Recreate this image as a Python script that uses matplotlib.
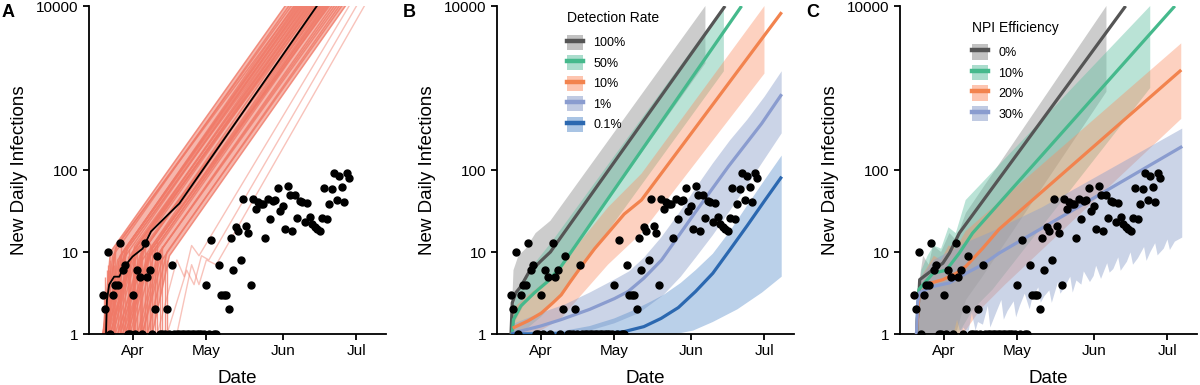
import numpy as np
import matplotlib
matplotlib.use("Agg")
import matplotlib.pyplot as plt
import matplotlib.dates as mdates
from matplotlib.patches import Patch
from matplotlib.lines import Line2D
from matplotlib.ticker import FixedLocator, FixedFormatter, NullLocator

plt.rcParams.update({
    "font.family": ["Liberation Sans", "DejaVu Sans"],
    "axes.linewidth": 1.3,
    "xtick.major.width": 1.3,
    "ytick.major.width": 1.3,
    "xtick.major.size": 4,
    "ytick.major.size": 4,
    "xtick.labelsize": 11,
    "ytick.labelsize": 11,
})

# ── days are counted from 1 April 2020 ──────────────────────────────────────
BASE = mdates.date2num(np.datetime64("2020-04-01"))

# observed daily cases, Mar 20 .. Jun 28 (0 = no cases, drawn on the floor)
obs_day = list(range(-12, 89))
obs_val = [3, 2, 10, 0, 3, 4, 4, 13, 6, 7, 0, 0,            # -12 .. -1
           3, 0, 6, 5, 0, 13, 5, 6, 0, 2, 9, 0, 0, 0, 2, 0,  # 0 .. 15
           7, 0, 0, 0, 0, 0, 0, 0, 0, 0, 0, 0, 0, 0,         # 16 .. 29
           4, 0, 14, 0, 0, 7, 3, 3, 3, 2, 15, 6, 20, 18, 8,  # 30 .. 44
           44, 21, 17, 4, 44, 33, 41, 39, 38, 15, 44, 25,    # 45 .. 56
           42, 43, 60, 32, 36, 19, 63, 49, 18, 50, 26, 42,   # 57 .. 68
           41, 23, 40, 27, 22, 20, 19, 18, 26, 61, 25, 39,   # 69 .. 80
           59, 93, 43, 85, 62, 41, 93, 81]                   # 81 .. 88

# panel A: simulated trajectories (start, knee, day reaching 10000)
ens_start = [-12, -12, -11.5, -11, -12, -11, -11.5, -10, -12, -10, -11, -9, -10.5,
             -9, -11, -8, -10, -7, -9, -6, -8, -5, -6, -4, -3, -5, -2, -4, -1, -3,
             0, -2, 2, 3, 4, 4, 6, 8]
ens_knee_day = [-9, -8, -7, -6, -6.5, -4, -5, -3, -4, -2, -3, -1, -2, 0, -1, 1, 0,
                2, 1, 3, 2, 4, 4, 5, 6, 5, 7, 6, 8, 7, 9, 8, 10, 11, 12, 12, 14, 15]
ens_knee_val = [10, 9, 11, 8, 12, 10, 9, 11, 8, 12, 10, 9, 11, 10, 8, 12, 9, 10, 11,
                9, 12, 8, 10, 11, 9, 12, 10, 8, 11, 9, 10, 12, 9, 10, 11, 8, 10, 9]
ens_end = [62, 63.5, 64.5, 65.5, 66, 66.5, 67, 67.5, 68, 68.5, 69, 69.5, 70, 70.5,
           71, 71.5, 72, 72.5, 73, 73.5, 74, 74.5, 75.5, 76, 76.5, 77, 77.5, 78,
           78.5, 79, 79.5, 80, 81, 82, 83, 84, 85, 86.5]
out_day = [[10, 18, 21, 24, 27, 88], [14, 22, 25, 28, 31, 91], [18, 24, 27, 30, 34, 94.2]]
out_val = [[1, 8, 5, 12, 9, 10000], [1, 6, 4, 9, 8, 10000], [1, 7, 4, 8, 7, 10000]]
spike_day = [-11.5, -11, -10.5, -10, -9.5, -9, -8, -7.5, -7, -6, -5, -4.5, -4, -3,
             -2, -1.5, -1, 0, 0.5, 1, 2, 3, 3.5, 4, 5, 6, 7, 8, 9, 10, 11, 12, 13, 14]
spike_top = [3, 5, 6, 7, 6, 8, 9, 7, 10, 8, 9, 12, 8, 10, 9, 11, 8, 10, 12, 9, 11,
             10, 13, 9, 12, 10, 13, 11, 12, 14, 10, 12, 9, 8]
med_day = [-10.8, -10.4, -9.5, -7.5, -5.4, -3.4, 0, 4.1, 7.5, 13.6, 19, 74.9]
med_val = [1, 2.6, 4, 5, 5, 6.6, 8.8, 11, 17.8, 27, 39, 10000]

# panel B: detection rate scenarios
b_labels = ["100%", "50%", "10%", "1%", "0.1%"]
b_mid_day = [[-12, -11.5, -10, -8, -5, -2, 0, 4, 75],
             [-11.5, -11, -8, -2.4, 3, 8.4, 81.7],
             [-11.3, -5, 0.3, 5, 8.4, 12, 16.6, 22, 27.4, 34, 41, 98],
             [-12, -10, 0, 8.4, 20, 30, 35.6, 42, 49.2, 62.7, 76.3, 89.9, 98],
             [-12, 25, 34, 42, 49, 56, 63, 70, 77, 84, 91, 98]]
b_mid = [[1, 2.4, 3.2, 3.8, 5.5, 6.7, 7.7, 10, 10000],
         [1, 1.5, 2.2, 3.2, 4.4, 6.7, 10000],
         [1.18, 1.45, 1.8, 2.4, 3.0, 4.3, 6.7, 11, 17, 29, 43, 8400],
         [1, 1.05, 1.25, 1.5, 2.0, 2.7, 3.3, 4.8, 8, 30, 110, 370, 840],
         [1, 1.01, 1.07, 1.23, 1.55, 2.1, 3.3, 5.5, 10.7, 21, 42, 83]]
b_up_day = [[-12, -11, -9, -6, -2, 4, 67],
            [-11.5, -8, -2.4, 4.3, 74.5],
            [-11.5, -5, 0.3, 8.4, 16.6, 27.4, 41, 91],
            [-12, 0, 10, 20, 30, 36, 42, 49, 56, 63, 70, 77, 84, 91, 98],
            [-12, 10, 20, 30, 37, 45, 50, 57, 63, 70, 77, 84, 91, 98]]
b_up = [[1, 6, 9, 11, 17, 24, 10000],
        [2, 4.2, 7.3, 13, 10000],
        [2, 3, 4, 6.5, 14, 35, 90, 10000],
        [1.3, 1.8, 2.3, 3.2, 4.6, 5.8, 8.5, 15, 29, 60, 120, 230, 410, 780, 1600],
        [1.05, 1.1, 1.25, 1.55, 1.9, 2.5, 3, 4.2, 6, 9.5, 18, 37, 75, 150]]
b_lo_day = [[-12, -10, -6, -2, 4, 67],
            [-11.5, -5, 0, 5, 10, 74.5],
            [-11.5, 0, 8, 16.6, 27.4, 41, 91],
            [-12, 20, 30, 40, 50, 57, 63, 70, 77, 84, 91, 98],
            [-12, 55, 62, 70, 80, 90, 98]]
b_lo = [[1, 1.5, 2.5, 3.5, 4.5, 2000],
        [1, 1.2, 1.6, 2.3, 3.4, 1600],
        [1, 1.1, 1.5, 3, 7, 17, 1500],
        [1, 1.1, 1.35, 1.8, 3, 5, 8.5, 16, 32, 65, 135, 280],
        [1, 1, 1.1, 1.4, 2, 3.2, 5]]

# panel C: NPI efficiency scenarios
c_labels = ["0%", "10%", "20%", "30%"]
c_mid_day = [[-11, -10, -9.7, -4.3, -0.3, 2.4, 6.4, 74],
             [-11, -10, -4.3, 1.1, 6.4, 11.8, 94],
             [-11, -10, -5, -0.3, 5.1, 9.1, 15.8, 22.6, 96.6],
             [-11, -10.5, -9.7, -4.3, 2.4, 9.1, 15.8, 22.6, 97]]
c_mid = [[1, 3, 4.6, 6.1, 7.3, 9.7, 17, 10000],
         [1, 3.5, 5.5, 6, 9.7, 17, 10000],
         [1, 3, 4.2, 4.6, 5.5, 6.7, 11, 19, 1660],
         [1, 2.5, 3.2, 3.8, 4.2, 5.5, 7, 9.7, 194]]
c_up_day = [[-11, -10, -8.3, -6, -4.3, -1, 2.4, 5, 9.1, 66.2],
            [-11, -9, -6.5, -4, -1, 2, 5, 9, 84],
            [-11, -9, -6, -4, -1, 2, 5, 9, 20, 96.6],
            [-11, -9, -4, 2, 9, 20, 40, 97]]
c_up = [[1, 4.2, 9, 7, 12, 10, 17, 14, 30, 10000],
        [1, 6, 9, 12, 11, 20, 17, 43, 10000],
        [1, 5, 7, 9, 8, 12, 11, 18, 35, 3500],
        [1, 5, 8, 10, 13, 18, 35, 320]]
c_lo_day = [[-11, 5, 9.1, 15.8, 66.2],
            [-11, 6, 12, 20, 84],
            [-11, 8, 15, 25, 96.6],
            [-11, 4, 5.5, 7, 8, 10, 11.5, 13, 14, 16, 18, 19, 21, 23.5, 24.5, 26,
             28.5, 29.5, 31, 33, 35, 36, 38.5, 39.5, 41, 43, 44, 46.5, 47.5, 49,
             51.5, 52.5, 54, 56, 57, 59.5, 61, 62, 64, 66.5, 67.5, 69, 71, 72,
             74.5, 76, 77, 79, 81.5, 82.5, 84, 86, 87, 89.5, 91, 92, 94, 97]]
c_lo = [[1, 1, 2.6, 5, 900],
        [1, 1, 2, 3.5, 1000],
        [1, 1, 2, 4, 420],
        [1, 1, 1.5, 1, 1.2, 1, 1.8, 1.1, 1.4, 1.3, 2.2, 1.2, 1.7, 2.6, 1.5, 1.9,
         2.5, 1.6, 2.2, 3.1, 2.0, 2.7, 3.7, 2.4, 2.9, 3.4, 2.4, 4.3, 3.1, 3.6,
         5.0, 3.2, 4.5, 4.0, 5.8, 4.3, 5.1, 6.8, 4.7, 7.3, 5.6, 6.2, 8.6, 5.9,
         7.6, 9.9, 7.0, 8.4, 11.5, 7.8, 9.9, 12.8, 9.1, 11.0, 14.2, 10.6, 13.4, 15]]

LINE_COLORS = ["#555555", "#45b98c", "#f2834e", "#8a9ccf", "#2b68b0"]
BAND_COLORS = ["#9a9a9a", "#66c2a5", "#fc8d62", "#8da0cb", "#5b8fcc"]
BAND_ALPHA = [0.5, 0.45, 0.4, 0.45, 0.42]
SALMON = "#f07a68"


def x(days):
    return BASE + np.asarray(days, dtype=float)


def style_axis(ax):
    ax.set_yscale("log")
    ax.set_ylim(1, 10000)
    ax.set_xlim(x(-17.7), x(103))
    ax.yaxis.set_major_locator(FixedLocator([1, 10, 100, 10000]))
    ax.yaxis.set_major_formatter(FixedFormatter(["1", "10", "100", "10000"]))
    ax.yaxis.set_minor_locator(NullLocator())
    ax.xaxis.set_major_locator(mdates.MonthLocator(bymonth=[4, 5, 6, 7]))
    ax.xaxis.set_major_formatter(mdates.DateFormatter("%b"))
    for side in ("top", "right"):
        ax.spines[side].set_visible(False)
    ax.set_xlabel("Date", fontsize=13.5, labelpad=8)
    ax.set_ylabel("New Daily Infections", fontsize=13.5, labelpad=6)


def draw_obs(ax):
    vals = np.asarray(obs_val, dtype=float)
    ax.plot(x(obs_day), np.where(vals == 0, 1, vals), "o", color="black",
            ms=5, zorder=10)


def draw_band(ax, up_day, up, lo_day, lo, color, alpha):
    xs = np.concatenate([x(up_day), x(lo_day)[::-1]])
    ys = np.concatenate([up, lo[::-1]])
    ax.fill(xs, ys, color=color, alpha=alpha, lw=0)


def draw_scenarios(ax, mid_day, mid, up_day, up, lo_day, lo, labels, title, anchor):
    n = len(labels)
    for i in range(n):
        draw_band(ax, up_day[i], up[i], lo_day[i], lo[i], BAND_COLORS[i], BAND_ALPHA[i])
    for i in range(n):
        ax.plot(x(mid_day[i]), mid[i], color=LINE_COLORS[i], lw=2.3,
                solid_capstyle="butt", zorder=5)
    handles = [(Patch(facecolor=BAND_COLORS[i], alpha=BAND_ALPHA[i] + 0.1, lw=0),
                Line2D([], [], color=LINE_COLORS[i], lw=3.2)) for i in range(n)]
    leg = ax.legend(handles, labels, title=title, loc="upper left",
                    bbox_to_anchor=anchor, frameon=False, fontsize=9,
                    title_fontsize=10, handlelength=1.3, handleheight=1.5,
                    handletextpad=0.8, labelspacing=0.42, borderpad=0,
                    borderaxespad=0)
    leg._legend_box.align = "left"
    leg._legend_box.sep = 7


fig = plt.figure(figsize=(12, 3.85), dpi=100)
W, H = 1200, 385
ax_a = fig.add_axes([89 / W, 51 / H, 297 / W, 328 / H])
ax_b = fig.add_axes([497 / W, 51 / H, 297 / W, 328 / H])
ax_c = fig.add_axes([900 / W, 51 / H, 297 / W, 328 / H])

# ── A: trajectory ensemble ──────────────────────────────────────────────────
# solid body between the earliest and the latest main trajectory
body_x = np.concatenate([x([ens_start[0], ens_knee_day[0], ens_end[0]]),
                         x([ens_end[-1], ens_knee_day[-1], ens_start[-1]])])
body_y = [1, ens_knee_val[0], 10000, 10000, ens_knee_val[-1], 1]
ax_a.fill(body_x, body_y, color=SALMON, alpha=0.55, lw=0)
for s, kd, kv, e in zip(ens_start, ens_knee_day, ens_knee_val, ens_end):
    ax_a.plot(x([s, kd, e]), [1, kv, 10000], color=SALMON, lw=1.1, alpha=0.8)
for d, v in zip(out_day, out_val):
    ax_a.plot(x(d), v, color=SALMON, lw=1.0, alpha=0.45)
ax_a.vlines(x(spike_day), 1, spike_top, color=SALMON, lw=1.0, alpha=0.8)
ax_a.plot(x(med_day), med_val, color="black", lw=1.3, zorder=6)
draw_obs(ax_a)
style_axis(ax_a)

# ── B: detection rate ───────────────────────────────────────────────────────
draw_scenarios(ax_b, b_mid_day, b_mid, b_up_day, b_up, b_lo_day, b_lo,
               b_labels, "Detection Rate", (0.236, 0.985))
draw_obs(ax_b)
style_axis(ax_b)

# ── C: NPI efficiency ───────────────────────────────────────────────────────
draw_scenarios(ax_c, c_mid_day, c_mid, c_up_day, c_up, c_lo_day, c_lo,
               c_labels, "NPI Efficiency", (0.242, 0.955))
draw_obs(ax_c)
style_axis(ax_c)

for label, xpos in (("A", 2), ("B", 403), ("C", 806)):
    fig.text(xpos / W, 1 - 4 / H, label, fontsize=13, fontweight="bold",
             ha="left", va="top")

fig.savefig("out.png", dpi=100)
